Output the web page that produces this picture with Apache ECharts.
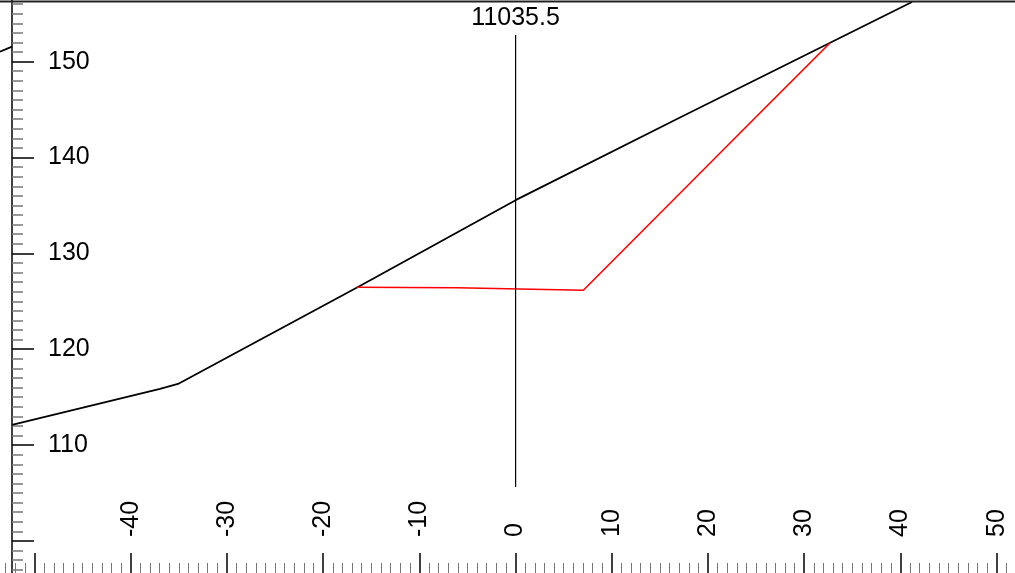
<!DOCTYPE html>
<html>
<head>
<meta charset="utf-8">
<style>
  html, body { margin: 0; padding: 0; background: #fff; }
  #chart { width: 1015px; height: 573px; }
</style>
<script src="https://cdn.jsdelivr.net/npm/echarts@6/dist/echarts.min.js"></script>
</head>
<body>
<div id="chart"></div>
<script>
/* cross section data */
const groundX = [-52.34, -36.96, -35.09, -16.38, 0, 17.19, 41.2];
const groundY = [112.1, 115.86, 116.38, 126.5, 135.55, 144.23, 156.23];

const groundLeftX = [-53.6, -52.34];
const groundLeftY = [151.04, 151.56];

const designX = [-16.51, -6.12, 7.04, 24.98, 32.67];
const designY = [126.47, 126.42, 126.15, 144.23, 151.95];

const stationLabel = "11035.5";
const stationX = 0;
const stationY = [105.63, 152.79];

const xTickLabels = [-40, -30, -20, -10, 0, 10, 20, 30, 40, 50];
const yTickLabels = [110, 120, 130, 140, 150];

function pairs(xs, ys) {
  let out = [];
  for (let i = 0; i < xs.length; i++) {
    out.push([xs[i], ys[i]]);
  }
  return out;
}

var dom = document.getElementById("chart");
var myChart = echarts.init(dom, null, { renderer: "canvas" });

var font = "Liberation Sans, Arial, sans-serif";

var option = {
  animation: false,
  backgroundColor: "#fff",
  grid: {
    left: -61.7,
    width: 1154.6,
    top: -34.2,
    height: 671,
    containLabel: false,
    outerBoundsMode: "none",
  },
  xAxis: {
    type: "value",
    min: -60,
    max: 60,
    interval: 10,
    position: "bottom",
    offset: -63.8,
    axisLine: { show: false, onZero: false },
    axisTick: { show: true, inside: true, length: 20, lineStyle: { color: "#000", width: 1.5 } },
    minorTick: { show: true, splitNumber: 10, length: 10, lineStyle: { color: "#777", width: 1 } },
    splitLine: { show: false },
    axisLabel: {
      inside: true,
      rotate: 90,
      margin: 36,
      color: "#000",
      fontSize: 25,
      fontFamily: font,
      formatter: function (v) {
        return xTickLabels.indexOf(v) >= 0 ? String(v) : "";
      },
    },
  },
  yAxis: {
    type: "value",
    min: 90,
    max: 160,
    interval: 10,
    position: "left",
    offset: -73.7,
    axisLine: { show: true, onZero: false, lineStyle: { color: "#000", width: 1.5 } },
    axisTick: { show: true, inside: true, length: 22, lineStyle: { color: "#000", width: 1.5 } },
    minorTick: { show: true, splitNumber: 10, length: 11, lineStyle: { color: "#777", width: 1.5 } },
    splitLine: { show: false },
    axisLabel: {
      inside: true,
      margin: 36,
      color: "#000",
      fontSize: 25,
      fontFamily: font,
      formatter: function (v) {
        return yTickLabels.indexOf(v) >= 0 ? String(v) : "";
      },
    },
  },
  graphic: [
    {
      type: "line",
      shape: { x1: 0, y1: 1.5, x2: 1015, y2: 1.5 },
      style: { stroke: "#222", lineWidth: 2 },
      z: 100,
    },
  ],
  series: [
    {
      type: "line",
      data: pairs(groundX, groundY),
      symbol: "none",
      lineStyle: { color: "#000", width: 1.8 },
    },
    {
      type: "line",
      data: pairs(groundLeftX, groundLeftY),
      symbol: "none",
      lineStyle: { color: "#000", width: 1.8 },
    },
    {
      type: "line",
      data: pairs(designX, designY),
      symbol: "none",
      lineStyle: { color: "#ff0000", width: 1.6 },
    },
    {
      type: "line",
      data: [
        [stationX, stationY[0]],
        [stationX, stationY[1]],
      ],
      symbol: "circle",
      symbolSize: 1,
      showSymbol: true,
      itemStyle: { color: "rgba(0,0,0,0)" },
      lineStyle: { color: "#000", width: 1.2 },
      label: {
        show: true,
        position: "top",
        distance: 4,
        formatter: function (p) {
          return p.dataIndex === 1 ? stationLabel : "";
        },
        color: "#000",
        fontSize: 25,
        fontFamily: font,
      },
    },
  ],
};

myChart.setOption(option);
window.addEventListener("resize", myChart.resize);
</script>
</body>
</html>
